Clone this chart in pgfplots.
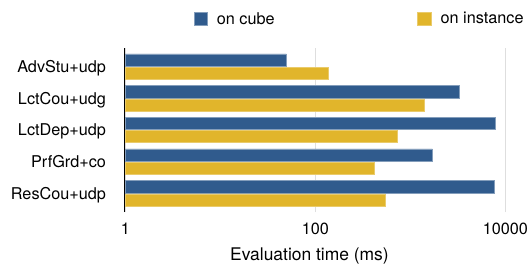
\documentclass[border=0pt]{standalone}
\usepackage{pgfplots}
\pgfplotsset{compat=1.18}
\usepackage{fontspec}
\setmainfont{TeX Gyre Heros}
\definecolor{cubeblue}{RGB}{48,91,141}
\definecolor{instyellow}{RGB}{225,181,43}
\begin{document}
\begin{tikzpicture}
\useasboundingbox (0,0) rectangle (532bp,265bp);
\begin{axis}[
 at={(124.5bp,53bp)}, anchor=south west,
 scale only axis, width=402.5bp, height=164bp,
 xmode=log, xmin=0.98, xmax=16900,
 ymin=-0.59, ymax=4.59,
 xbar, bar width=12.2bp,
 ytick={0,1,2,3,4},
 yticklabels={ResCou+udp,PrfGrd+co,LctDep+udp,LctCou+udg,AdvStu+udp},
 xtick={1,100,10000}, xticklabels={1,100,10000},
 /pgf/number format/assume math mode=true,
 major tick length=0pt, minor tick length=0pt,
 xmajorgrids, grid style={draw=black!13, line width=1bp},
 axis y line*=left, axis x line*=bottom,
 x axis line style={draw=none},
 y axis line style={black, line width=1bp},
 ticklabel style={font=\fontsize{16.3}{19}\selectfont},
 yticklabel style={anchor=base east, inner sep=0pt, xshift=-18.3bp, yshift=-5.8bp},
 xticklabel style={anchor=base, inner sep=0pt, yshift=-22.3bp},
 xlabel={Evaluation time (ms)},
 xlabel style={at={(axis description cs:0.4596,0)}, anchor=base, yshift=-48.5bp, font=\fontsize{17.5}{20}\selectfont, inner sep=0pt},
 legend columns=2,
 legend cell align=left,
 legend style={at={(axis description cs:0.171,1.177)}, anchor=west, draw=none, fill=none, inner sep=0pt,
   font=\fontsize{16.3}{19}\selectfont, nodes={inner sep=0pt},
   /tikz/every odd column/.append style={column sep=9.3bp},
   /tikz/every even column/.append style={column sep=142.7bp}},
 legend image code/.code={\fill[#1] (0bp,-6.7bp) rectangle (13.4bp,6.7bp);},
]
\addplot[fill=cubeblue, draw=cubeblue!60!white, line width=0.6bp, bar shift=6.6bp]
  coordinates {(7600,0) (1705,1) (7850,2) (3280,3) (49.5,4)};
\addlegendentry{on cube}
\addplot[fill=instyellow, draw=instyellow!70!white, line width=0.6bp, bar shift=-6.6bp]
  coordinates {(542,0) (418,1) (730,2) (1404,3) (138,4)};
\addlegendentry{on instance}
\end{axis}
\end{tikzpicture}
\end{document}
